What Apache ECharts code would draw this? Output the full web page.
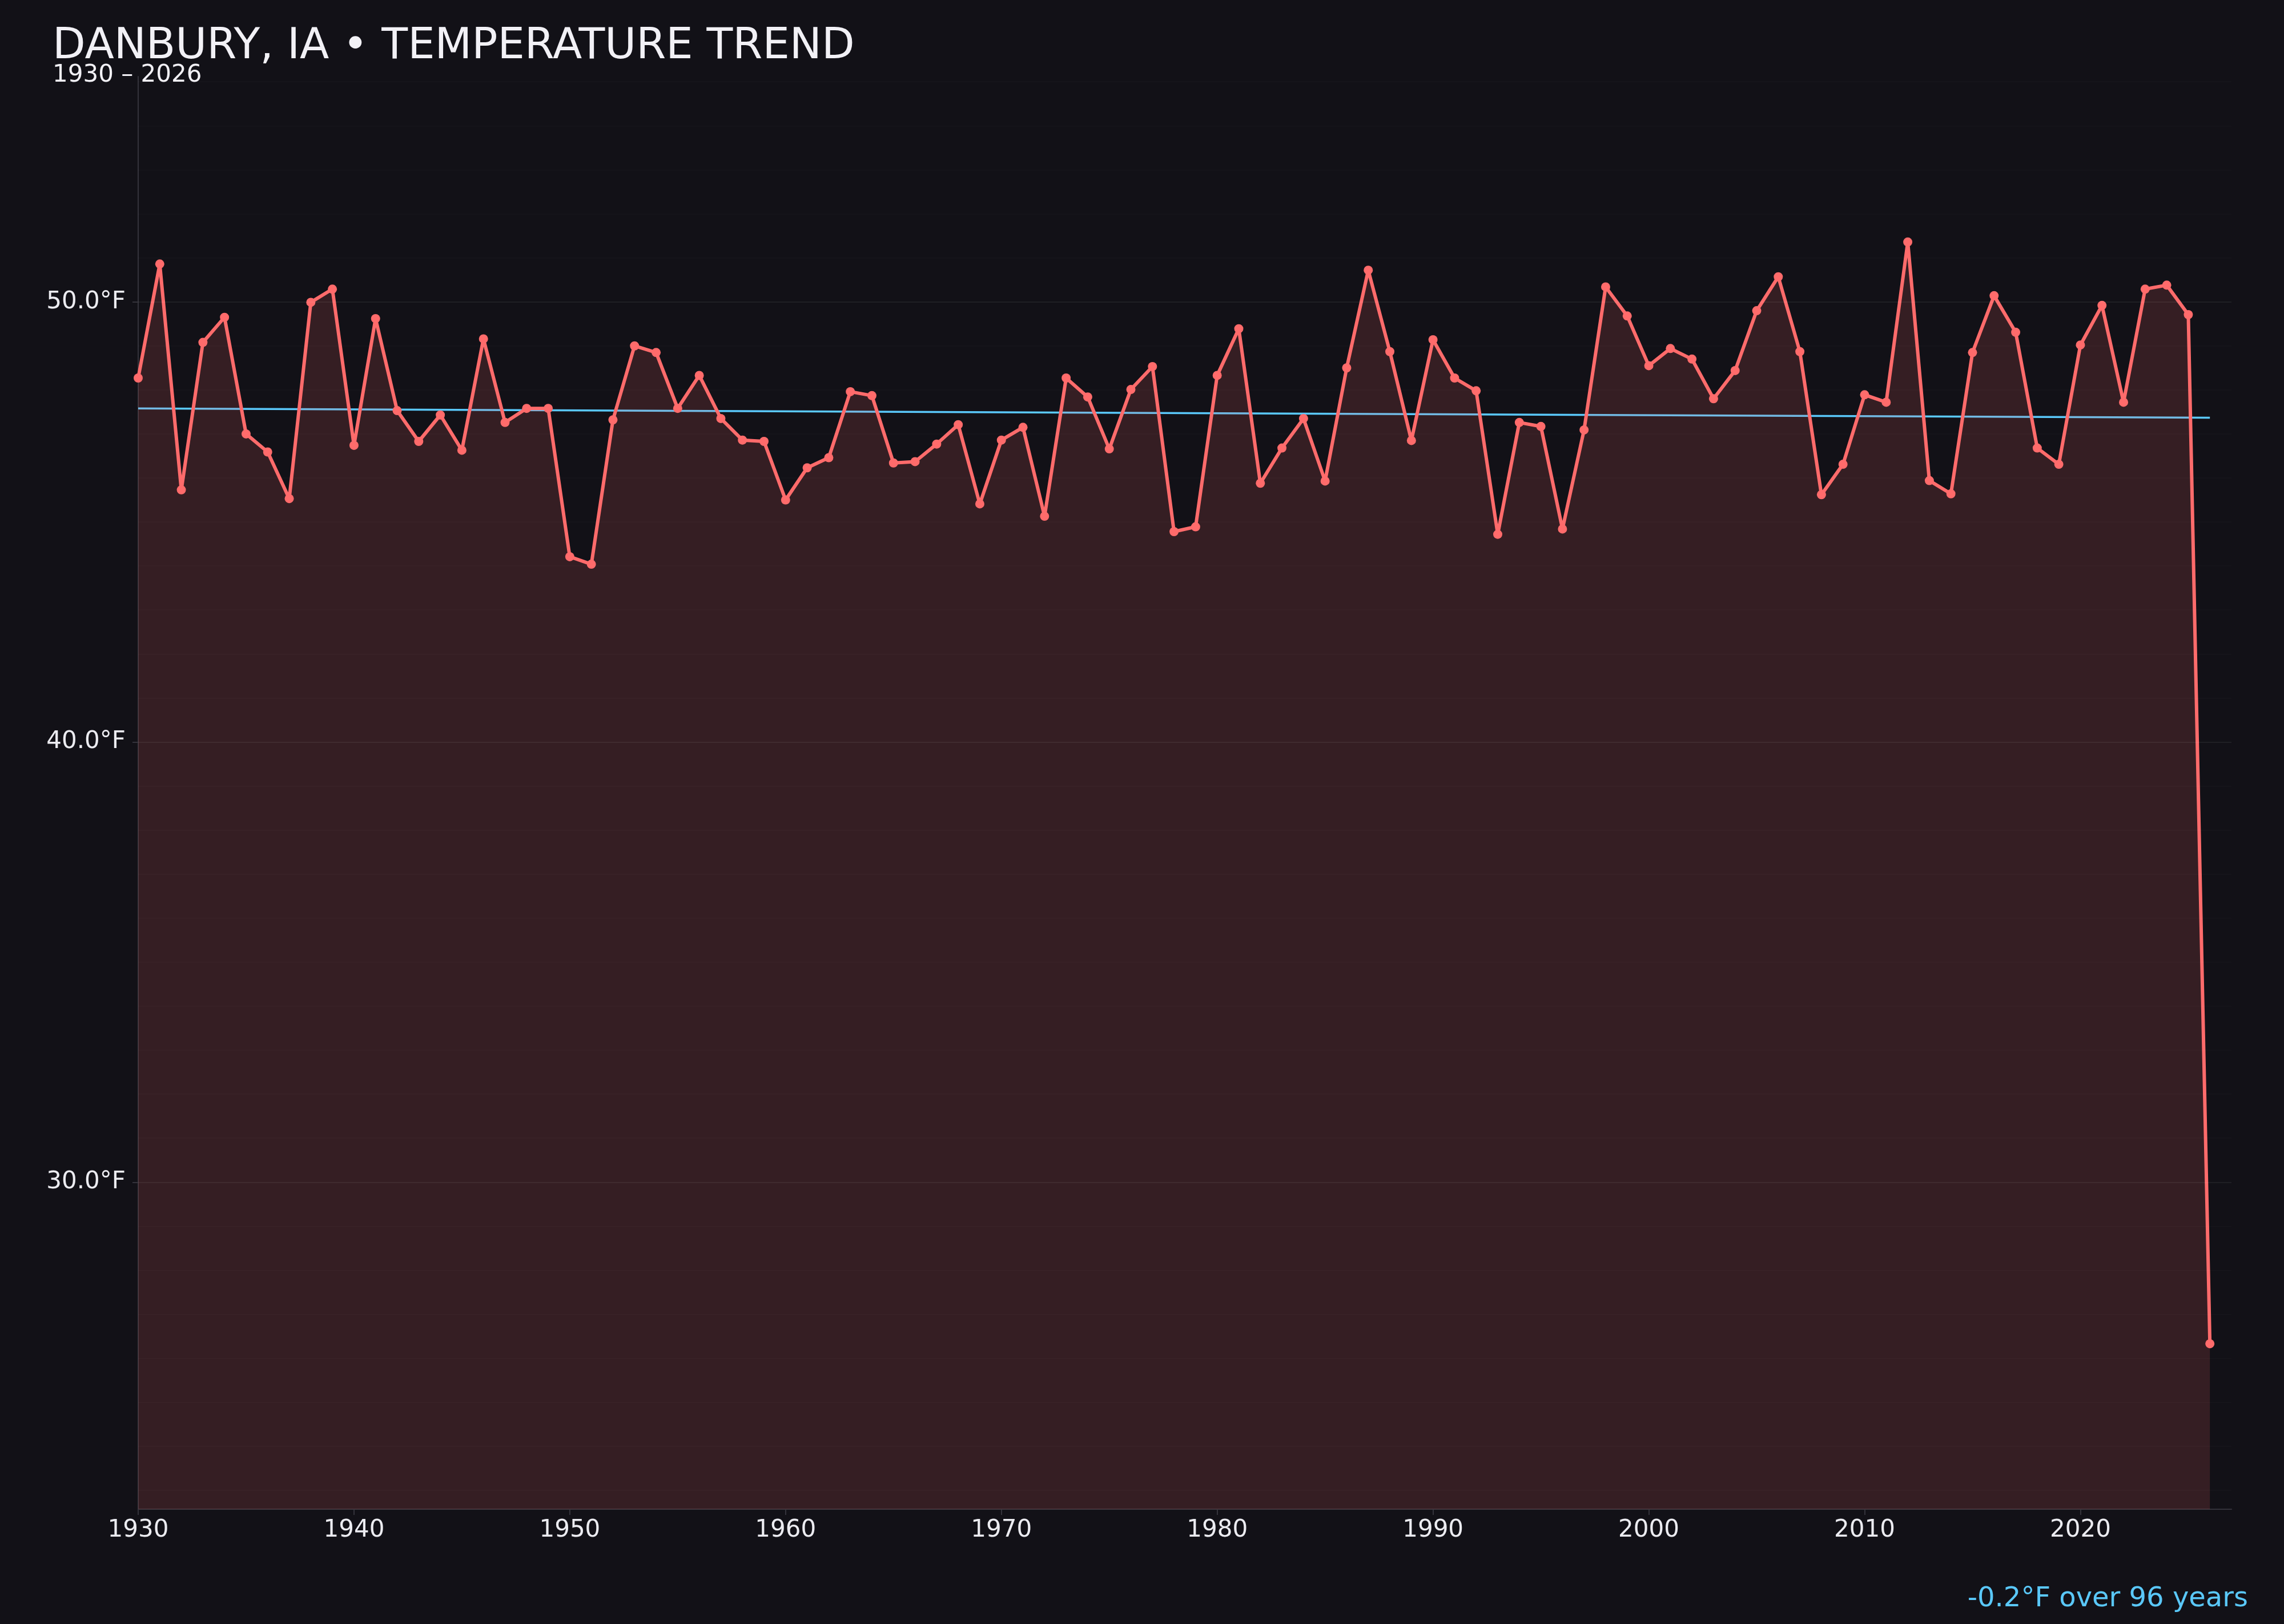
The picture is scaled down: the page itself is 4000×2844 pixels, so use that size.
<!DOCTYPE html>
<html><head><meta charset="utf-8">
<script src="https://cdn.jsdelivr.net/npm/echarts@6/dist/echarts.min.js"></script>
<style>html,body{margin:0;padding:0;background:#121117;}#chart{width:4000px;height:2844px;}</style>
</head><body><div id="chart"></div>
<script>
const years = [1930,1931,1932,1933,1934,1935,1936,1937,1938,1939,
  1940,1941,1942,1943,1944,1945,1946,1947,1948,1949,
  1950,1951,1952,1953,1954,1955,1956,1957,1958,1959,
  1960,1961,1962,1963,1964,1965,1966,1967,1968,1969,
  1970,1971,1972,1973,1974,1975,1976,1977,1978,1979,
  1980,1981,1982,1983,1984,1985,1986,1987,1988,1989,
  1990,1991,1992,1993,1994,1995,1996,1997,1998,1999,
  2000,2001,2002,2003,2004,2005,2006,2007,2008,2009,
  2010,2011,2012,2013,2014,2015,2016,2017,2018,2019,
  2020,2021,2022,2023,2024,2025,2026];
const temps = [48.27,50.86,45.73,49.08,49.65,47.00,46.59,45.53,49.99,50.29,
  46.74,49.62,47.53,46.83,47.43,46.63,49.16,47.26,47.58,47.58,
  44.21,44.04,47.32,49.00,48.85,47.58,48.33,47.35,46.86,46.83,
  45.50,46.23,46.46,47.96,47.87,46.34,46.37,46.77,47.21,45.41,
  46.86,47.15,45.13,48.27,47.84,46.66,48.01,48.53,44.78,44.89,
  48.33,49.39,45.88,46.68,47.35,45.93,48.50,50.72,48.87,46.85,
  49.14,48.27,47.98,44.72,47.26,47.17,44.84,47.09,50.34,49.68,
  48.55,48.94,48.70,47.80,48.44,49.80,50.57,48.87,45.62,46.31,
  47.89,47.72,51.36,45.94,45.64,48.85,50.14,49.31,46.68,46.31,
  49.02,49.92,47.72,50.29,50.38,49.71,26.33];
const trendYears = [1930, 2026];
const trendTemps = [47.58, 47.37];
const xTickValues = [1930,1940,1950,1960,1970,1980,1990,2000,2010,2020];
const yTickValues = [30, 40, 50];
const minorGridValues = [23,24,25,26,27,28,29,31,32,33,34,35,36,37,38,39,41,42,43,44,45,46,47,48,49,51,52,53,54,55];
const yMin = 22.57, yMax = 55.12;
const xMin = 1930, xMax = 2027;

const FONT = 'DejaVu Sans';
const chart = echarts.init(document.getElementById('chart'), null, {renderer:'canvas', width:4000, height:2844});
const mainData = years.map((y,i)=>[y, temps[i]]);
const trendData = trendYears.map((y,i)=>[y, trendTemps[i]]);
const gridLines = minorGridValues.map(v=>({yAxis:v, lineStyle:{color:'rgba(255,255,255,0.014)', width:2, type:'solid'}}))
  .concat(yTickValues.map(v=>({yAxis:v, lineStyle:{color:'rgba(255,255,255,0.06)', width:2, type:'solid'}})));
const axisColor = '#34333b';
const option = {
  backgroundColor:'#121117',
  animation:false,
  title:[
    {text:'DANBURY, IA • TEMPERATURE TREND', left:92, top:45, padding:0,
     textStyle:{color:'#f2f1f6', fontSize:75, fontWeight:'normal', fontFamily:FONT}},
    {text:'1930 – 2026', left:92, top:111, padding:0,
     textStyle:{color:'#f2f1f6', fontSize:42, fontWeight:'normal', fontFamily:FONT}},
    {text:'-0.2°F over 96 years', right:63, top:2777, padding:0,
     textStyle:{color:'#5ac8fa', fontSize:48, fontWeight:'normal', fontFamily:FONT}}
  ],
  grid:{left:242, right:92, top:134, bottom:201, containLabel:false},
  xAxis:{type:'value', min:xMin, max:xMax, interval:10,
    splitLine:{show:false},
    axisLine:{show:true, lineStyle:{color:axisColor, width:2}},
    axisTick:{show:true, customValues:xTickValues, length:10, lineStyle:{color:axisColor, width:2}},
    axisLabel:{customValues:xTickValues, color:'#ececf1', fontSize:42, fontFamily:FONT, margin:16,
      formatter:v=>String(v)}},
  yAxis:{type:'value', min:yMin, max:yMax,
    splitLine:{show:false},
    axisLine:{show:true, lineStyle:{color:axisColor, width:2}},
    axisTick:{show:true, customValues:yTickValues, length:10, lineStyle:{color:axisColor, width:2}},
    axisLabel:{customValues:yTickValues, color:'#ececf1', fontSize:42, fontFamily:FONT, margin:22,
      formatter:v=>Number(v).toFixed(1)+'°F'}},
  series:[
    {type:'line', name:'trend', data:trendData, z:2, symbol:'none', silent:true,
     lineStyle:{color:'#5ac8fa', width:3.5},
     markLine:{silent:true, symbol:['none','none'], animation:false, label:{show:false},
       emphasis:{disabled:true}, data:gridLines}},
    {type:'line', name:'temp', data:mainData, z:3, symbol:'circle', symbolSize:16, showSymbol:true, showAllSymbol:true,
     lineStyle:{color:'#ff6b6b', width:6},
     itemStyle:{color:'#ff6b6b', borderWidth:0},
     areaStyle:{color:'rgba(255,107,107,0.15)', opacity:1, origin:'start'}}
  ]
};
chart.setOption(option);
</script>
</body></html>
